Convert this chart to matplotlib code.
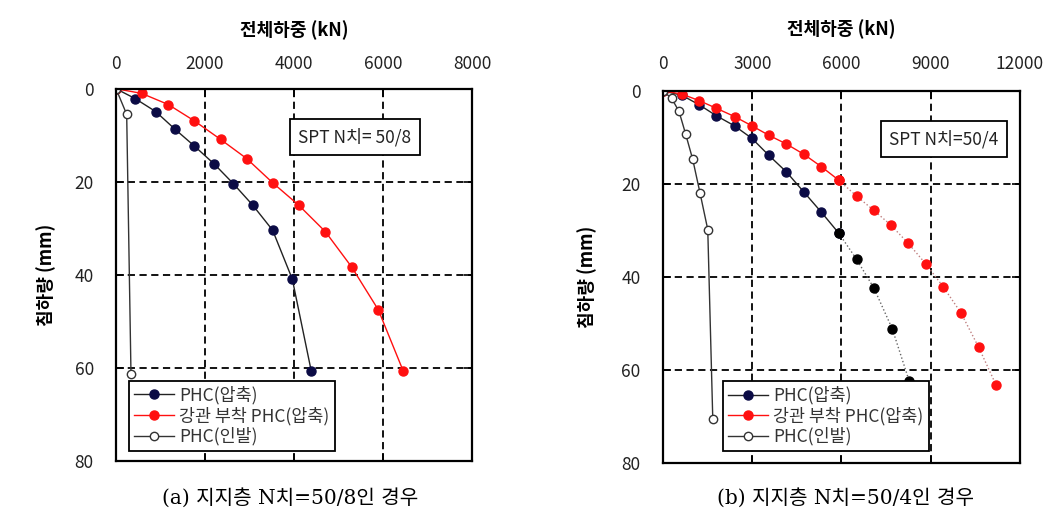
import matplotlib
matplotlib.use("Agg")
import matplotlib.pyplot as plt

plt.rcParams['font.family'] = ['Noto Sans CJK KR', 'DejaVu Sans']

# (a) SPT N=50/8
a_phc_load = [0, 427, 891, 1326, 1760, 2210, 2637, 3071, 3520, 3962, 4389]
a_phc_settle = [0, 2.1, 4.9, 8.7, 12.3, 16.2, 20.4, 25.0, 30.4, 40.9, 60.7]
a_steel_load = [0, 577, 1176, 1760, 2352, 2936, 3520, 4104, 4704, 5296, 5895, 6457]
a_steel_settle = [0, 1.0, 3.4, 6.9, 10.9, 15.0, 20.2, 25.0, 30.7, 38.3, 47.5, 60.7]
a_pull_load = [0, 240, 337]
a_pull_settle = [0, 5.5, 61.4]

# (b) SPT N=50/4
b_phc_load = [0, 629, 1225, 1787, 2405, 2990, 3552, 4148, 4732, 5328, 5912, 6508, 7092, 7711, 8273]
b_phc_settle = [0, 0.9, 3.0, 5.3, 7.5, 10.2, 13.8, 17.4, 21.7, 26.1, 30.6, 36.2, 42.4, 51.2, 62.3]
b_steel_load = [0, 629, 1225, 1787, 2405, 2990, 3552, 4148, 4732, 5328, 5912, 6508, 7092,
                7654, 8250, 8835, 9419, 10015, 10611, 11195]
b_steel_settle = [0, 0.65, 2.1, 3.7, 5.5, 7.5, 9.5, 11.4, 13.6, 16.3, 19.2, 22.6, 25.7,
                  28.8, 32.8, 37.2, 42.1, 47.7, 55.1, 63.2]
b_pull_load = [0, 292, 540, 764, 1000, 1248, 1506, 1675]
b_pull_settle = [0, 1.6, 4.4, 9.3, 14.7, 22.0, 29.8, 70.6]
b_phc_solid = 11    # points drawn with solid line, rest dotted
b_steel_solid = 11

legend_labels = ['PHC(압축)', '강관 부착 PHC(압축)', 'PHC(인발)']
navy = '#0b0b45'
red = '#ff1010'

fig = plt.figure(figsize=(10.46, 5.31), dpi=100)
ax1 = fig.add_axes([0.1109, 0.1318, 0.3403, 0.7011])
ax2 = fig.add_axes([0.6338, 0.1281, 0.3413, 0.7006])

mk = dict(marker='o', markersize=6.5, linewidth=1.0)


def style(ax, xmax, xticks, spt, spt_x, ypad, xpad):
    ax.set_xlim(0, xmax)
    ax.set_ylim(80, 0)
    ax.set_xticks(xticks)
    ax.set_yticks([0, 20, 40, 60, 80])
    ax.xaxis.tick_top()
    ax.xaxis.set_label_position('top')
    ax.tick_params(axis='x', which='both', direction='in', top=True, bottom=True,
                   length=6, width=1.2, pad=xpad, labelsize=12.5, labelcolor='#222222')
    ax.tick_params(axis='y', direction='in', left=True, right=True, length=6, width=1.2,
                   pad=16, labelsize=12.5, labelcolor='#222222')
    ax.grid(True, color='black', linestyle=(0, (4, 2.5)), linewidth=1.3)
    for s in ax.spines.values():
        s.set_linewidth(1.6)
    ax.set_xlabel('전체하중 (kN)', fontsize=13, fontweight='bold', labelpad=14)
    ax.set_ylabel('침하량 (mm)', fontsize=13, fontweight='bold', labelpad=ypad)
    ax.text(spt_x, 0.87, spt, transform=ax.transAxes, ha='right', va='center', fontsize=12.5,
            color='#222222',
            bbox=dict(boxstyle='square,pad=0.5', fc='white', ec='black', lw=1.3))


# left chart
ax1.plot(a_phc_load, a_phc_settle, color='#222222', mfc=navy, mec=navy, label=legend_labels[0], **mk)
ax1.plot(a_steel_load, a_steel_settle, color=red, mfc=red, mec=red, label=legend_labels[1], **mk)
ax1.plot(a_pull_load, a_pull_settle, color='#333333', mfc='white', mec='#333333',
         label=legend_labels[2], marker='o', markersize=6, linewidth=1.0)
style(ax1, 8000, [0, 2000, 4000, 6000, 8000], 'SPT N치= 50/8', 0.83, 13, 11)

# right chart
n = b_phc_solid
ax2.plot(b_phc_load[:n], b_phc_settle[:n], color='#222222', mfc=navy, mec=navy, label=legend_labels[0], **mk)
ax2.plot(b_phc_load[n - 1:], b_phc_settle[n - 1:], color='#666666', linestyle=':', mfc='black', mec='black', **mk)
n = b_steel_solid
ax2.plot(b_steel_load[:n], b_steel_settle[:n], color=red, mfc=red, mec=red, label=legend_labels[1], **mk)
ax2.plot(b_steel_load[n - 1:], b_steel_settle[n - 1:], color='#c08080', linestyle=':', mfc=red, mec=red, **mk)
ax2.plot(b_pull_load, b_pull_settle, color='#333333', mfc='white', mec='#333333',
         label=legend_labels[2], marker='o', markersize=6, linewidth=1.0)
style(ax2, 12000, [0, 3000, 6000, 9000, 12000], 'SPT N치=50/4', 0.94, 17.5, 13)

for ax, anchor in [(ax1, (0.0365, 0.027)), (ax2, (0.168, 0.032))]:
    h, l = ax.get_legend_handles_labels()
    leg = ax.legend(h, l, loc='lower left', bbox_to_anchor=anchor, fontsize=12.5,
                    frameon=True, fancybox=False, framealpha=1, edgecolor='black',
                    handlelength=2.3, handletextpad=0.3, borderpad=0.3, labelspacing=0.12,
                    borderaxespad=0)
    leg.get_frame().set_linewidth(1.3)
    for t in leg.get_texts():
        t.set_color('#333333')

cap_font = ['DejaVu Serif', 'Noto Sans CJK KR']
fig.text(0.277, 0.062, '(a) 지지층 N치=50/8인 경우', ha='center', va='center', fontsize=14.5, family=cap_font)
fig.text(0.808, 0.062, '(b) 지지층 N치=50/4인 경우', ha='center', va='center', fontsize=14.5, family=cap_font)

fig.savefig('out.png', dpi=100)
